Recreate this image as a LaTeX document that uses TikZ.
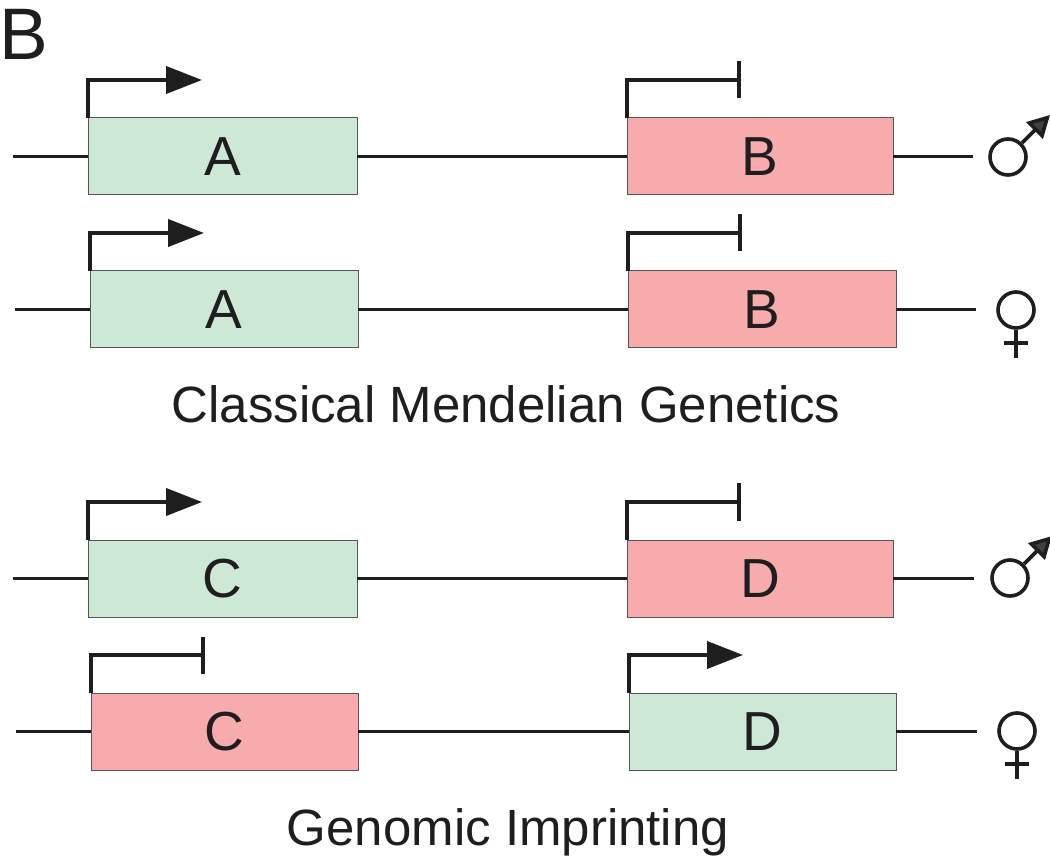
\documentclass[tikz,border=0pt]{standalone}
\usepackage{fontspec}
\setmainfont{Liberation Sans}
\usetikzlibrary{arrows.meta,calc}
\definecolor{geneon}{RGB}{206,232,214}
\definecolor{geneoff}{RGB}{247,171,173}
\definecolor{boxedge}{RGB}{85,85,85}
\definecolor{ink}{RGB}{30,30,30}
\tikzset{
  gene/.style={draw=boxedge, line width=1pt, rectangle, minimum height=77pt, inner sep=0pt, outer sep=0pt,
    text=ink, font=\fontsize{55}{55}\selectfont},
  geneA/.style={gene, fill=geneon},
  geneR/.style={gene, fill=geneoff},
  dna/.style={draw=ink, line width=2.6pt},
  prom/.style={draw=ink, line width=4pt, line cap=butt, line join=miter},
  actv/.style={prom, -{Triangle[length=36pt,width=27pt]}},
  repr/.style={prom, -{Bar[width=37pt]}},
  sexcirc/.style={circle, draw=ink, line width=3.6pt, minimum size=36pt, inner sep=0pt, fill=white},
  sexline/.style={draw=ink, line width=3.6pt},
  malearrow/.style={sexline, -{Triangle[length=22pt,width=23pt,fill=ink!85]}},
  title/.style={font=\fontsize{51}{51}\selectfont, text=ink, inner sep=0pt, anchor=base},
}
\begin{document}
\begin{tikzpicture}[x=1pt,y=-1pt]
\useasboundingbox (0,0) rectangle (1050,858);
\node[font=\fontsize{73}{73}\selectfont, text=ink, inner sep=0pt, anchor=base west] (lab) at (-1,60) {B};

% Row 1 (male, classical)
\node[geneA, minimum width=269pt] (A1) at (222.5,156.5) {A};
\node[geneR, minimum width=266pt] (B1) at (760,156.5) {B};
\coordinate (L1) at (13,156.5);
\coordinate (R1) at (973,156.5);
\draw[dna] (L1) -- (A1.west);
\draw[dna] (A1.east) -- (B1.west);
\draw[dna] (B1.east) -- (R1);
\draw[actv] (A1.north west) -- ++(0,-38) -- ++(114,0);
\draw[repr] (B1.north west) -- ++(0,-38) -- ++(114,0);
\node[sexcirc] (m1) at (1008,157) {};
\draw[malearrow] (m1.45) -- ++(28,-28);

% Row 2 (female, classical)
\node[geneA, minimum width=268pt] (A2) at (224,309.5) {A};
\node[geneR, minimum width=268pt] (B2) at (762,309.5) {B};
\coordinate (L2) at (15,309.5);
\coordinate (R2) at (976,309.5);
\draw[dna] (L2) -- (A2.west);
\draw[dna] (A2.east) -- (B2.west);
\draw[dna] (B2.east) -- (R2);
\draw[actv] (A2.north west) -- ++(0,-38) -- ++(114,0);
\draw[repr] (B2.north west) -- ++(0,-38) -- ++(114,0);
\node[sexcirc] (f2) at (1016,310) {};
\draw[sexline] (f2.south) -- ++(0,28);
\draw[sexline] ($(f2.south)+(-12,13)$) -- ++(24,0);

\node[title] (t1) at (506,423) {Classical Mendelian Genetics};

% Row 3 (male, imprinting)
\node[geneA, minimum width=269pt] (C3) at (222.5,578.5) {C};
\node[geneR, minimum width=266pt] (D3) at (760,578.5) {D};
\coordinate (L3) at (13,578.5);
\coordinate (R3) at (974,578.5);
\draw[dna] (L3) -- (C3.west);
\draw[dna] (C3.east) -- (D3.west);
\draw[dna] (D3.east) -- (R3);
\draw[actv] (C3.north west) -- ++(0,-38) -- ++(114,0);
\draw[repr] (D3.north west) -- ++(0,-38) -- ++(114,0);
\node[sexcirc] (m3) at (1010,578) {};
\draw[malearrow] (m3.45) -- ++(28,-28);

% Row 4 (female, imprinting)
\node[geneR, minimum width=267pt] (C4) at (224.5,731.5) {C};
\node[geneA, minimum width=267pt] (D4) at (762.5,731.5) {D};
\coordinate (L4) at (16,731.5);
\coordinate (R4) at (977,731.5);
\draw[dna] (L4) -- (C4.west);
\draw[dna] (C4.east) -- (D4.west);
\draw[dna] (D4.east) -- (R4);
\draw[repr] (C4.north west) -- ++(0,-38) -- ++(114,0);
\draw[actv] (D4.north west) -- ++(0,-38) -- ++(114,0);
\node[sexcirc] (f4) at (1017,731) {};
\draw[sexline] (f4.south) -- ++(0,28);
\draw[sexline] ($(f4.south)+(-12,13)$) -- ++(24,0);

\node[title] (t2) at (508,845) {Genomic Imprinting};
\end{tikzpicture}
\end{document}
